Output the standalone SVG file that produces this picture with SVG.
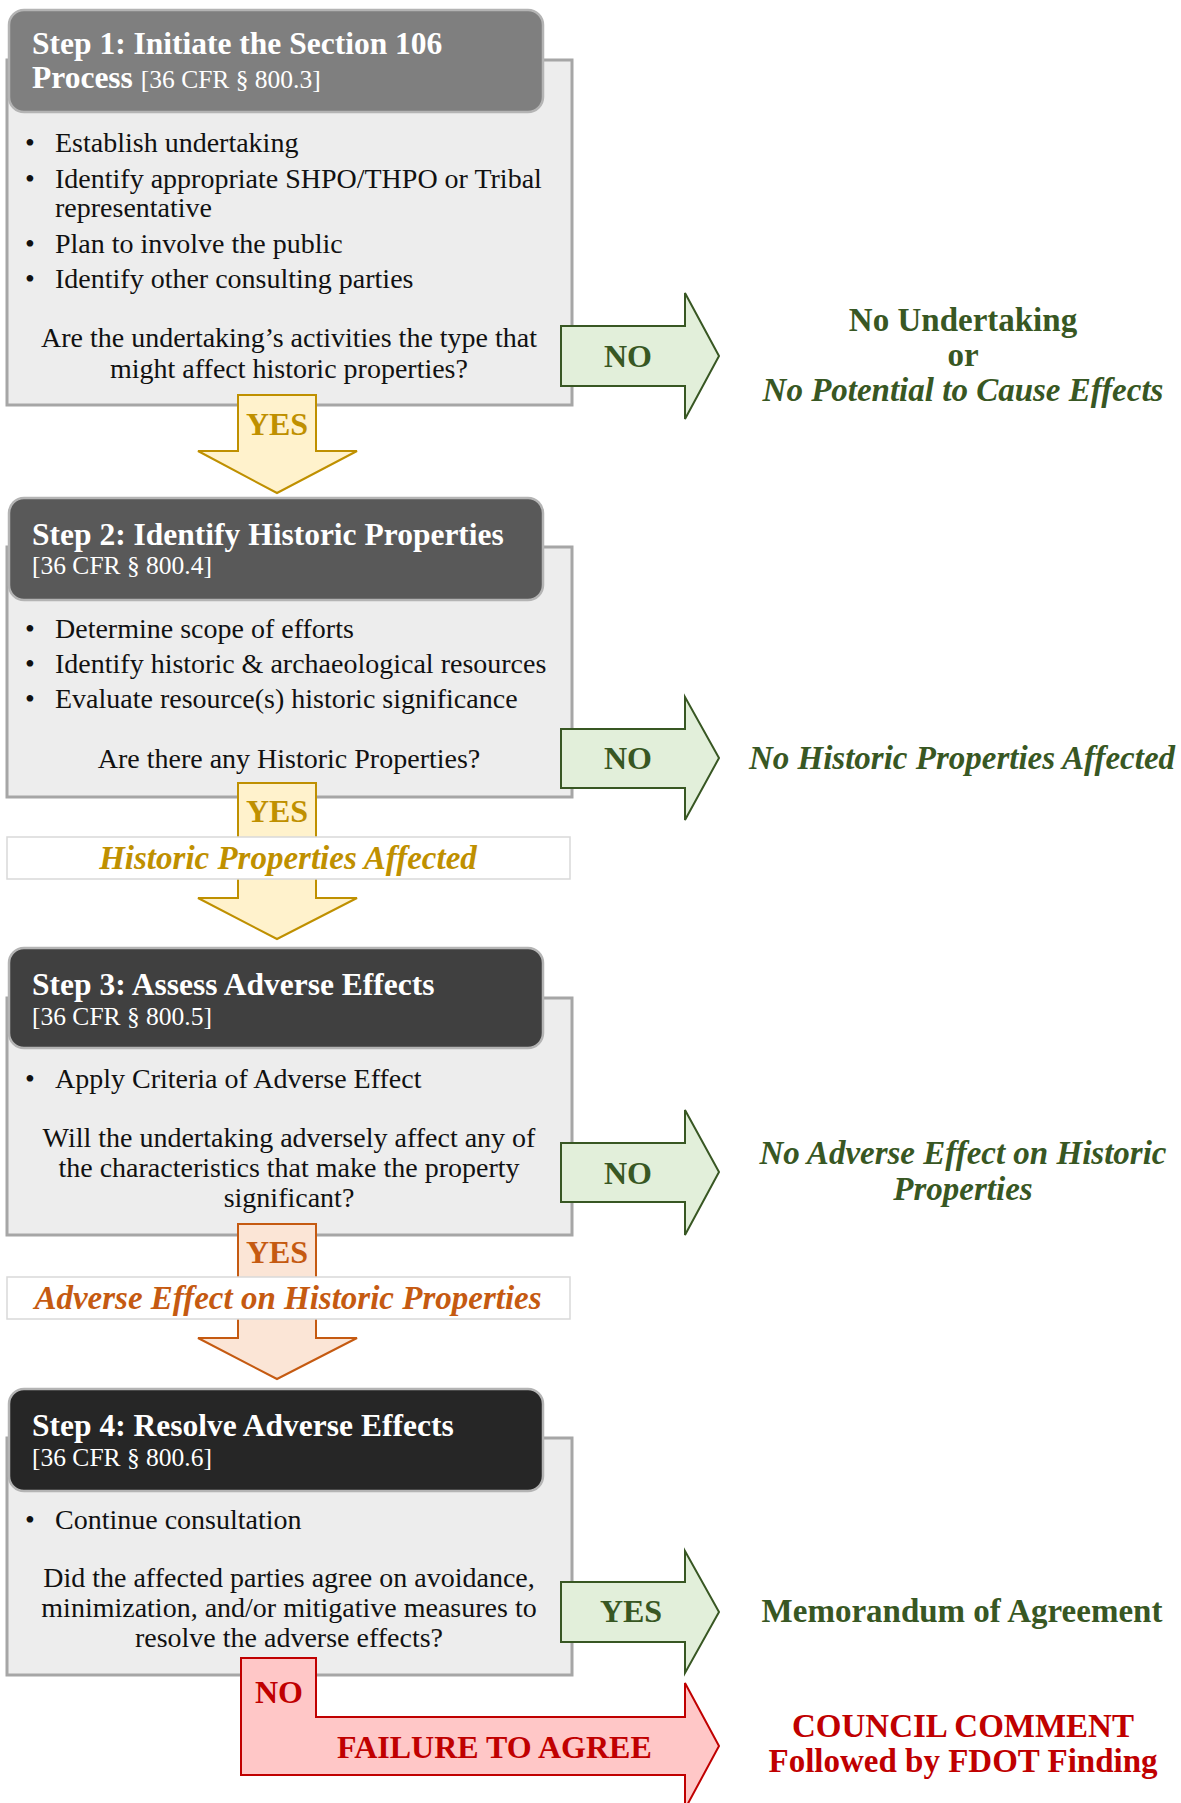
<svg xmlns="http://www.w3.org/2000/svg" width="1181" height="1803" viewBox="0 0 1181 1803">
<style>
text{font-family:"Liberation Serif","Times New Roman",serif;}
.body{fill:#ededed;stroke:#a6a6a6;stroke-width:3;}
.hdr{stroke:#b4b4b4;stroke-width:2.5;}
.ht{fill:#ffffff;font-weight:bold;font-size:31.5px;}
.cfr{fill:#ffffff;font-weight:normal;font-size:25.5px;}
.bt{fill:#111111;font-size:28px;}
.q{fill:#111111;font-size:28px;text-anchor:middle;}
.garrow{fill:#e2efda;stroke:#385723;stroke-width:2;}
.gl{fill:#385723;font-weight:bold;font-size:32px;text-anchor:middle;}
.go{fill:#385723;font-weight:bold;font-size:33px;text-anchor:middle;}
.goi{fill:#385723;font-weight:bold;font-style:italic;font-size:33px;text-anchor:middle;}
.yarrow{fill:#fff2cc;stroke:#bf9000;stroke-width:2;}
.yl{fill:#bf9000;font-weight:bold;font-size:32px;text-anchor:middle;}
.yi{fill:#bf9000;font-weight:bold;font-style:italic;font-size:33px;text-anchor:middle;}
.oarrow{fill:#fbe5d6;stroke:#c55a11;stroke-width:2;}
.ol{fill:#c55a11;font-weight:bold;font-size:32px;text-anchor:middle;}
.oi{fill:#c55a11;font-weight:bold;font-style:italic;font-size:33px;text-anchor:middle;}
.rarrow{fill:#ffc7c7;stroke:#c00000;stroke-width:2;}
.rl{fill:#c00000;font-weight:bold;font-size:32px;}
.ro{fill:#c00000;font-weight:bold;font-size:33px;text-anchor:middle;}
.lbox{fill:#ffffff;stroke:#d9d9d9;stroke-width:1.5;}
</style>
<rect width="1181" height="1803" fill="#ffffff"/>

<g id="step1">
  <rect class="body" x="7" y="60" width="565" height="345"/>
  <rect class="hdr" x="9" y="10" width="534" height="102" rx="15" fill="#7f7f7f"/>
  <text class="ht" x="32" y="54">Step 1: Initiate the Section 106</text>
  <text class="ht" x="32" y="88">Process <tspan class="cfr">[36 CFR § 800.3]</tspan></text>
  <text class="bt" x="25" y="152">•</text><text class="bt" x="55" y="152">Establish undertaking</text>
  <text class="bt" x="25" y="188">•</text><text class="bt" x="55" y="188">Identify appropriate SHPO/THPO or Tribal</text>
  <text class="bt" x="55" y="217">representative</text>
  <text class="bt" x="25" y="253">•</text><text class="bt" x="55" y="253">Plan to involve the public</text>
  <text class="bt" x="25" y="288">•</text><text class="bt" x="55" y="288">Identify other consulting parties</text>
  <text class="q" x="289" y="347">Are the undertaking’s activities  the type that</text>
  <text class="q" x="289" y="378">might affect historic properties?</text>
</g>

<g id="step2">
  <rect class="body" x="7" y="547" width="565" height="250"/>
  <rect class="hdr" x="9" y="498" width="534" height="102" rx="15" fill="#595959"/>
  <text class="ht" x="32" y="545">Step 2: Identify Historic Properties</text>
  <text class="cfr" x="32" y="574">[36 CFR § 800.4]</text>
  <text class="bt" x="25" y="638">•</text><text class="bt" x="55" y="638">Determine scope of efforts</text>
  <text class="bt" x="25" y="673">•</text><text class="bt" x="55" y="673">Identify historic &amp; archaeological resources</text>
  <text class="bt" x="25" y="708">•</text><text class="bt" x="55" y="708">Evaluate resource(s) historic significance</text>
  <text class="q" x="289" y="768">Are there any Historic Properties?</text>
</g>

<g id="step3">
  <rect class="body" x="7" y="998" width="565" height="237"/>
  <rect class="hdr" x="9" y="948" width="534" height="100" rx="15" fill="#404040"/>
  <text class="ht" x="32" y="995">Step 3: Assess Adverse Effects</text>
  <text class="cfr" x="32" y="1025">[36 CFR § 800.5]</text>
  <text class="bt" x="25" y="1088">•</text><text class="bt" x="55" y="1088">Apply Criteria  of Adverse Effect</text>
  <text class="q" x="289" y="1147">Will the undertaking adversely affect any of</text>
  <text class="q" x="289" y="1177">the characteristics that make the property</text>
  <text class="q" x="289" y="1207">significant?</text>
</g>

<g id="step4">
  <rect class="body" x="7" y="1438" width="565" height="237"/>
  <rect class="hdr" x="9" y="1389" width="534" height="102" rx="15" fill="#262626"/>
  <text class="ht" x="32" y="1436">Step 4: Resolve Adverse Effects</text>
  <text class="cfr" x="32" y="1466">[36 CFR § 800.6]</text>
  <text class="bt" x="25" y="1529">•</text><text class="bt" x="55" y="1529">Continue consultation</text>
  <text class="q" x="289" y="1587">Did the affected parties agree on avoidance,</text>
  <text class="q" x="289" y="1617">minimization, and/or mitigative  measures to</text>
  <text class="q" x="289" y="1647">resolve the adverse effects?</text>
</g>

<g id="connectors">
  <polygon class="garrow" points="561,326 685,326 685,293 719,356 685,419 685,386 561,386"/>
  <text class="gl" x="628" y="367">NO</text>
  <polygon class="yarrow" points="238,395 316,395 316,451 357,451 277,493 198,451 238,451"/>
  <text class="yl" x="277" y="435">YES</text>

  <polygon class="garrow" points="561,729 685,729 685,697 719,758 685,820 685,788 561,788"/>
  <text class="gl" x="628" y="769">NO</text>
  <polygon class="yarrow" points="238,783 316,783 316,898 357,898 277,939 198,898 238,898"/>
  <text class="yl" x="277" y="822">YES</text>
  <rect class="lbox" x="7" y="837" width="563" height="42"/>
  <text class="yi" x="288" y="869">Historic Properties Affected</text>

  <polygon class="garrow" points="561,1143 685,1143 685,1110 719,1172 685,1235 685,1202 561,1202"/>
  <text class="gl" x="628" y="1184">NO</text>
  <polygon class="oarrow" points="238,1224 316,1224 316,1338 357,1338 277,1379 198,1338 238,1338"/>
  <text class="ol" x="277" y="1263">YES</text>
  <rect class="lbox" x="7" y="1277" width="563" height="42"/>
  <text class="oi" x="288" y="1309">Adverse Effect on Historic Properties</text>

  <polygon class="garrow" points="561,1582 685,1582 685,1551 719,1612 685,1673 685,1642 561,1642"/>
  <text class="gl" x="631" y="1622">YES</text>
  <polygon class="rarrow" points="241,1658 316,1658 316,1717 685,1717 685,1683 719,1746 685,1809 685,1775 241,1775"/>
  <text class="rl" x="279" y="1703" text-anchor="middle">NO</text>
  <text class="rl" x="337" y="1758">FAILURE  TO AGREE</text>
</g>

<g id="outcome1">
  <text class="go" x="963" y="331">No Undertaking</text>
  <text class="go" x="963" y="366">or</text>
  <text class="goi" x="963" y="401">No Potential to Cause Effects</text>
</g>
<g id="outcome2">
  <text class="goi" x="962" y="769">No Historic Properties Affected</text>
</g>
<g id="outcome3">
  <text class="goi" x="963" y="1164">No Adverse Effect on Historic</text>
  <text class="goi" x="963" y="1200">Properties</text>
</g>
<g id="outcome4">
  <text class="go" x="962" y="1622">Memorandum  of Agreement</text>
</g>
<g id="outcome5">
  <text class="ro" x="963" y="1737">COUNCIL COMMENT</text>
  <text class="ro" x="963" y="1772">Followed by FDOT Finding</text>
</g>
</svg>
